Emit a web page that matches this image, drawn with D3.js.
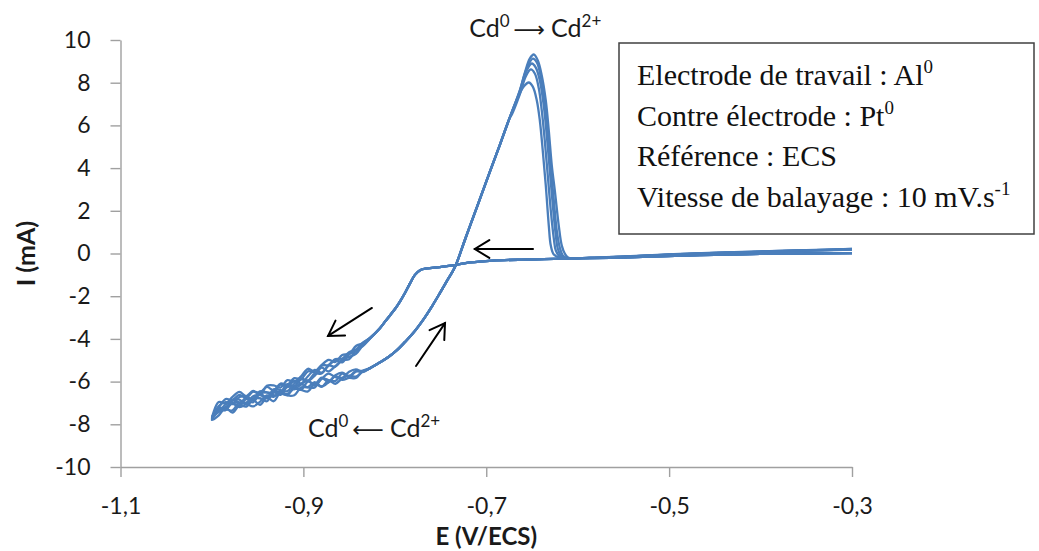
<!DOCTYPE html>
<html>
<head>
<meta charset="utf-8">
<script src="https://cdn.jsdelivr.net/npm/d3@7"></script>
<style>
  html, body { margin: 0; padding: 0; background: #ffffff; }
  svg { display: block; }
</style>
</head>
<body>
<svg id="chart" width="1039" height="551"></svg>
<script>
// ---------------- DATA ----------------
const xTicks = [-1.1, -0.9, -0.7, -0.5, -0.3];
const yTicks = [-10, -8, -6, -4, -2, 0, 2, 4, 6, 8, 10];
const xTitle = "E (V/ECS)";
const yTitle = "I (mA)";

// Cathodic (forward) scan, smooth part shared by all cycles
const fwdSmoothE = [-0.3, -0.35, -0.4, -0.4664, -0.5211, -0.5649, -0.6141, -0.6524, -0.6929, -0.718, -0.7367, -0.7509, -0.7648, -0.7724, -0.778, -0.7834, -0.7889, -0.7944, -0.7998, -0.8053, -0.8108, -0.8163];
const fwdSmoothI = [0.02, 0.0, -0.02, -0.08, -0.15, -0.2, -0.24, -0.28, -0.33, -0.42, -0.56, -0.64, -0.7, -0.78, -1.0, -1.4, -1.85, -2.25, -2.6, -2.9, -3.2, -3.5];

// Noisy region potentials (cathodic direction)
const noisyE = [-0.8275, -0.835, -0.8425, -0.85, -0.8575, -0.865, -0.8725, -0.88, -0.8875, -0.895, -0.9025, -0.91, -0.9175, -0.925, -0.9325, -0.94, -0.9475, -0.955, -0.9625, -0.97, -0.9775, -0.985, -0.9925, -1.0];

// Forward noisy currents per cycle
const fwdI1 = [-3.96, -4.18, -4.50, -4.62, -4.92, -4.95, -5.22, -5.25, -5.55, -5.52, -5.88, -5.84, -6.15, -6.09, -6.40, -6.25, -6.52, -6.47, -6.76, -6.62, -6.86, -6.82, -7.20, -7.65];
const fwdI2 = [-4.00, -4.34, -4.55, -4.95, -5.00, -5.30, -5.25, -5.62, -5.62, -5.96, -5.90, -6.22, -6.12, -6.48, -6.45, -6.76, -6.57, -6.86, -6.74, -7.05, -6.86, -7.22, -7.25, -7.80];
const fwdI3 = [-3.98, -4.22, -4.57, -4.72, -5.10, -5.00, -5.25, -5.58, -5.45, -5.75, -6.08, -5.97, -6.25, -6.14, -6.52, -6.50, -6.45, -6.84, -6.70, -6.72, -7.05, -6.96, -7.14, -7.72];
const fwdI4 = [-3.96, -4.20, -4.33, -4.70, -4.75, -5.08, -4.98, -5.22, -5.53, -5.40, -5.75, -6.00, -5.93, -6.28, -6.18, -6.20, -6.62, -6.44, -6.68, -6.48, -6.72, -7.02, -6.96, -7.75];
const fwdI5 = [-4.00, -4.30, -4.70, -4.84, -4.96, -5.27, -5.52, -5.35, -5.72, -5.97, -5.85, -6.10, -6.45, -6.40, -6.36, -6.75, -6.63, -6.69, -6.98, -6.97, -6.87, -7.07, -7.40, -7.70];

// Reverse noisy currents per cycle (listed from -1.0 back up to -0.8275)
const revI1 = [-7.80, -7.25, -7.33, -7.00, -7.16, -6.82, -6.97, -6.58, -6.78, -6.50, -6.62, -6.25, -6.27, -6.38, -6.00, -6.13, -5.82, -6.03, -5.70, -5.58, -5.75, -5.50, -5.50, -5.38];
const revI2 = [-7.82, -7.58, -7.23, -7.45, -7.12, -7.17, -6.86, -7.09, -6.75, -6.92, -6.52, -6.58, -6.33, -6.39, -6.46, -6.10, -6.24, -5.95, -6.10, -5.85, -5.72, -5.77, -5.53, -5.38];
const revI3 = [-7.78, -7.37, -7.19, -7.03, -7.20, -7.04, -6.81, -6.78, -6.92, -6.49, -6.54, -6.63, -6.26, -6.13, -6.27, -6.27, -5.84, -5.93, -5.97, -5.63, -5.78, -5.53, -5.54, -5.38];
const revI4 = [-7.80, -7.35, -7.33, -6.88, -6.84, -7.07, -6.81, -6.57, -6.50, -6.64, -6.57, -6.15, -6.36, -6.13, -5.94, -6.18, -5.87, -5.63, -5.79, -5.82, -5.54, -5.43, -5.55, -5.38];
const revI5 = [-7.80, -7.42, -7.30, -7.35, -6.98, -7.03, -7.16, -6.95, -6.65, -6.71, -6.48, -6.65, -6.64, -6.27, -6.26, -6.02, -6.23, -6.03, -5.75, -5.92, -5.83, -5.83, -5.49, -5.38];

// Anodic rise, shared by all cycles
const revSmoothE = [-0.8166, -0.807, -0.798, -0.789, -0.7804, -0.7673, -0.759, -0.7509, -0.7425, -0.7345, -0.7224, -0.7104, -0.6962, -0.6852, -0.6743];
const revSmoothI = [-5.11, -4.85, -4.54, -4.15, -3.75, -3.0, -2.45, -1.87, -1.25, -0.66, 0.75, 2.15, 3.81, 5.08, 6.36];

// Stripping peak + return to -0.3 V, per cycle
const peakE1 = [-0.6633, -0.6579, -0.6524, -0.648, -0.6436, -0.6393, -0.6349, -0.6316, -0.6283, -0.625, -0.6207, -0.6174, -0.6141, -0.61, -0.5867, -0.5539, -0.4882, -0.4007, -0.35, -0.3];
const peakI1 = [7.63, 8.45, 9.13, 9.32, 9.04, 8.34, 7.17, 5.76, 4.12, 2.95, 1.31, 0.37, 0.0, -0.2, -0.2, -0.15, -0.02, 0.1, 0.16, 0.22];
const peakE2 = [-0.6633, -0.6557, -0.6491, -0.6447, -0.6404, -0.636, -0.6327, -0.6294, -0.6261, -0.6229, -0.6196, -0.6163, -0.611, -0.5867, -0.5539, -0.4882, -0.4007, -0.35, -0.3];
const peakI2 = [7.63, 8.67, 9.13, 8.95, 8.29, 7.07, 5.67, 3.98, 2.48, 1.08, 0.28, -0.09, -0.22, -0.21, -0.16, -0.03, 0.09, 0.15, 0.21];
const peakE3 = [-0.6633, -0.6568, -0.6502, -0.6458, -0.6414, -0.6371, -0.6338, -0.6305, -0.6272, -0.6239, -0.6218, -0.6174, -0.612, -0.5867, -0.5539, -0.4882, -0.4007, -0.35, -0.3];
const peakI3 = [7.54, 8.48, 8.90, 8.71, 8.10, 6.93, 5.53, 3.89, 2.25, 0.84, 0.23, -0.14, -0.22, -0.21, -0.16, -0.03, 0.08, 0.14, 0.2];
const peakE4 = [-0.6721, -0.6633, -0.6568, -0.6513, -0.6469, -0.6425, -0.6393, -0.636, -0.6327, -0.6294, -0.6261, -0.6239, -0.6196, -0.613, -0.5867, -0.5539, -0.4882, -0.4007, -0.35, -0.3];
const peakI4 = [6.5, 7.45, 8.29, 8.62, 8.43, 7.73, 6.70, 5.29, 3.65, 2.01, 0.70, 0.14, -0.14, -0.22, -0.21, -0.16, -0.04, 0.08, 0.14, 0.19];
const peakE5 = [-0.6655, -0.659, -0.6535, -0.6491, -0.6447, -0.6414, -0.6382, -0.6349, -0.6316, -0.6294, -0.6261, -0.6196, -0.614, -0.5867, -0.5539, -0.4882, -0.4007, -0.35, -0.3];
const peakI5 = [7.31, 7.82, 8.01, 7.82, 7.17, 6.23, 4.82, 3.19, 1.31, 0.37, -0.05, -0.19, -0.23, -0.21, -0.16, -0.04, 0.07, 0.13, 0.18];

// Annotation arrows, in data units: [E start, I start, E end (tip), I end (tip)]
const scanArrows = [
  [-0.6489, 0.21, -0.7125, 0.21],
  [-0.825, -2.55, -0.873, -3.86],
  [-0.7768, -5.27, -0.7451, -3.26]
];
const legendLines = [
  ["Electrode de travail : Al", "0"],
  ["Contre électrode : Pt", "0"],
  ["Référence : ECS", ""],
  ["Vitesse de balayage : 10 mV.s", "-1"]
];

// ---------------- CHART ----------------
const svg = d3.select("#chart");
const x = d3.scaleLinear().domain([-1.1, -0.3]).range([120.5, 852]);
const y = d3.scaleLinear().domain([-10, 10]).range([467, 40]);

const axisColor = "#a0a0a0";
const labelFont = "Lato, 'Open Sans', sans-serif";

// Axes
const gx = svg.append("g").attr("transform", `translate(0,${y(-10)})`)
  .call(d3.axisBottom(x).tickValues(xTicks).tickSize(10).tickSizeOuter(0).tickPadding(21)
    .tickFormat(d => d.toFixed(1).replace(".", ",")));
const gy = svg.append("g").attr("transform", `translate(${x(-1.1)},0)`)
  .call(d3.axisLeft(y).tickValues(yTicks).tickSize(10).tickSizeOuter(0).tickPadding(20)
    .tickFormat(d => String(d)));
[gx, gy].forEach(g => {
  g.select(".domain").attr("stroke", axisColor).attr("stroke-width", 1.4);
  g.selectAll(".tick line").attr("stroke", axisColor).attr("stroke-width", 1.4);
  g.selectAll(".tick text").attr("fill", "#1a1a1a").attr("font-family", labelFont).attr("font-size", 23);
});

// Axis titles
svg.append("text").attr("x", (x(-1.1) + x(-0.3)) / 2).attr("y", 545)
  .attr("text-anchor", "middle").attr("font-family", labelFont).attr("font-weight", "bold")
  .attr("font-size", 24).attr("fill", "#1a1a1a").text(xTitle);
svg.append("text").attr("transform", `translate(35,${y(0)}) rotate(-90)`)
  .attr("text-anchor", "middle").attr("font-family", labelFont).attr("font-weight", "bold")
  .attr("font-size", 25).attr("fill", "#1a1a1a").text(yTitle);

// Build cycles
const zip = (E, I) => E.map((e, i) => [e, I[i]]);
const fwdNoisy = [fwdI1, fwdI2, fwdI3, fwdI4, fwdI5];
const revNoisy = [revI1, revI2, revI3, revI4, revI5];
const peaksE = [peakE1, peakE2, peakE3, peakE4, peakE5];
const peaksI = [peakI1, peakI2, peakI3, peakI4, peakI5];
const noisyERev = noisyE.slice().reverse();

const cycles = fwdNoisy.map((f, k) => [].concat(
  zip(fwdSmoothE, fwdSmoothI),
  zip(noisyE, f),
  zip(noisyERev, revNoisy[k]).slice(1),
  zip(revSmoothE, revSmoothI),
  zip(peaksE[k], peaksI[k])
));

const line = d3.line().x(d => x(d[0])).y(d => y(d[1])).curve(d3.curveCatmullRom.alpha(0.5));
svg.append("g").selectAll("path").data(cycles).join("path")
  .attr("d", line).attr("fill", "none").attr("stroke", "#4a7ebb")
  .attr("stroke-width", 2.3).attr("stroke-linejoin", "round");

// Scan-direction arrows
const ag = svg.append("g").attr("stroke", "#000").attr("stroke-width", 2).attr("fill", "none")
  .attr("stroke-linecap", "round");
scanArrows.forEach(a => {
  const x1 = x(a[0]), y1 = y(a[1]), x2 = x(a[2]), y2 = y(a[3]);
  const ang = Math.atan2(y2 - y1, x2 - x1);
  const L = 17, w = 0.55;
  const p1 = [x2 - L * Math.cos(ang - w), y2 - L * Math.sin(ang - w)];
  const p2 = [x2 - L * Math.cos(ang + w), y2 - L * Math.sin(ang + w)];
  ag.append("line").attr("x1", x1).attr("y1", y1).attr("x2", x2).attr("y2", y2);
  ag.append("path").attr("d", `M${p1[0]},${p1[1]}L${x2},${y2}L${p2[0]},${p2[1]}`);
});

// Reaction annotations
function reaction(xPos, yPos, arrow) {
  const t = svg.append("text").attr("x", xPos).attr("y", yPos)
    .attr("font-family", labelFont).attr("font-size", 25).attr("fill", "#1a1a1a");
  t.append("tspan").text("Cd");
  t.append("tspan").attr("font-size", 17).attr("dy", -10).text("0");
  t.append("tspan").attr("dy", 10).attr("font-family", "'DejaVu Sans', sans-serif").attr("font-size", 22)
    .attr("dx", 4).text(arrow);
  t.append("tspan").attr("dx", 6).text("Cd");
  t.append("tspan").attr("font-size", 17).attr("dy", -10).text("2+");
}
reaction(x(-0.7187), y(10.15), "\u27F6");
reaction(x(-0.895), y(-8.6), "\u27F5");

// Legend box
const lg = svg.append("g");
lg.append("rect").attr("x", 619).attr("y", 43).attr("width", 415).attr("height", 191)
  .attr("fill", "#fff").attr("stroke", "#404040").attr("stroke-width", 1.5);
legendLines.forEach((l, i) => {
  const t = lg.append("text").attr("x", 637).attr("y", 85 + i * 40.7)
    .attr("font-family", "'Liberation Serif', 'Times New Roman', serif").attr("font-size", 30)
    .attr("fill", "#111");
  t.append("tspan").text(l[0]);
  if (l[1]) t.append("tspan").attr("font-size", 19).attr("dy", -12).text(l[1]);
});
</script>
</body>
</html>
